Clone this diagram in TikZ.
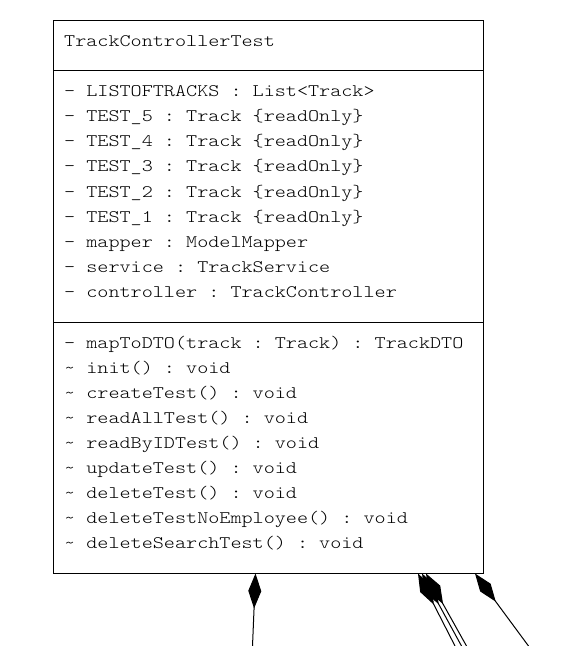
\documentclass[tikz,border=0pt]{standalone}
\usepackage{fontspec}
\setmonofont[FakeStretch=1.2]{Latin Modern Mono Light}
\usetikzlibrary{arrows.meta}
\begin{document}
\begin{tikzpicture}[x=1bp,y=-1bp,
  txt/.style={anchor=base west,inner sep=0pt,font=\fontsize{17.6bp}{20bp}\ttfamily},
  frame/.style={line width=1bp},
  comp/.style={{Diamond[length=35bp,width=13bp]}-, line width=1bp}]
\useasboundingbox (0,0) rectangle (587,646);
\node[draw,frame,minimum width=430.5bp,minimum height=552bp,anchor=north west,inner sep=0pt,outer sep=0pt] (cls) at (53,21) {};
\coordinate (s1) at (0,71);
\coordinate (s2) at (0,322);
\draw[frame] (cls.west|-s1) -- (cls.east|-s1);
\draw[frame] (cls.west|-s2) -- (cls.east|-s2);
\node[txt] (title) at (64,47) {TrackControllerTest};
\foreach \t [count=\i] in {%
  {- LISTOFTRACKS : List<Track>},
  {- TEST\_5 : Track \{readOnly\}},
  {- TEST\_4 : Track \{readOnly\}},
  {- TEST\_3 : Track \{readOnly\}},
  {- TEST\_2 : Track \{readOnly\}},
  {- TEST\_1 : Track \{readOnly\}},
  {- mapper : ModelMapper},
  {- service : TrackService},
  {- controller : TrackController}}
  \node[txt] (a\i) at (64,{97+25*(\i-1)}) {\t};
\foreach \t [count=\i] in {%
  {- mapToDTO(track : Track) : TrackDTO},
  {\textasciitilde{} init() : void},
  {\textasciitilde{} createTest() : void},
  {\textasciitilde{} readAllTest() : void},
  {\textasciitilde{} readByIDTest() : void},
  {\textasciitilde{} updateTest() : void},
  {\textasciitilde{} deleteTest() : void},
  {\textasciitilde{} deleteTestNoEmployee() : void},
  {\textasciitilde{} deleteSearchTest() : void}}
  \node[txt] (m\i) at (64,{348+25*(\i-1)}) {\t};
\coordinate (t1) at (255.5,573.5); \coordinate (e1) at (252.5,646);
\coordinate (t2) at (418,573.5);   \coordinate (e2) at (455,646);
\coordinate (t3) at (422,573.5);   \coordinate (e3) at (461.5,646);
\coordinate (t4) at (426,573.5);   \coordinate (e4) at (466.5,646);
\coordinate (t5) at (475,573.5);   \coordinate (e5) at (528.5,646);
\foreach \k in {1,...,5} \draw[comp] (t\k) -- (e\k);
\end{tikzpicture}
\end{document}
